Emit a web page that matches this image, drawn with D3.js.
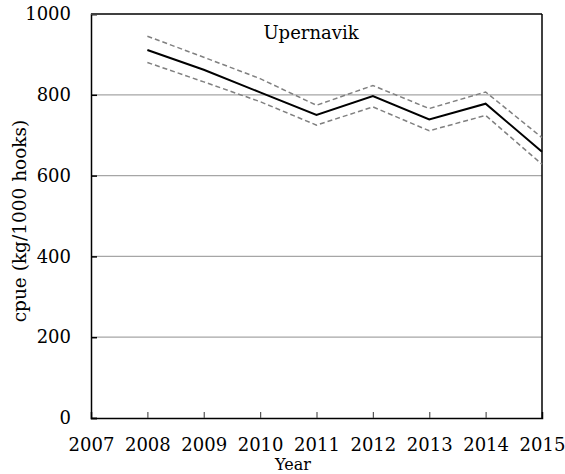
<!DOCTYPE html>
<html><head><meta charset="utf-8">
<script src="https://cdn.jsdelivr.net/npm/d3@7"></script>
<style>body{margin:0;background:#fff}svg{display:block}text{font-family:"DejaVu Serif",serif;fill:#000}</style>
</head><body><svg id="c" width="565" height="474"></svg>
<script>
const years = [2008, 2009, 2010, 2011, 2012, 2013, 2014, 2015];
const cpue = [911, 862, 806, 750, 797, 739, 778, 659];
const upper = [945, 893, 840, 774, 823, 766, 807, 694];
const lower = [880, 832, 783, 725, 770, 711, 749, 628];
const xTicks = [2007, 2008, 2009, 2010, 2011, 2012, 2013, 2014, 2015];
const yTicks = [0, 200, 400, 600, 800, 1000];
const title = "Upernavik";

const svg = d3.select("#c");
const L = 91, R = 542, T = 14, B = 418;
const x = d3.scaleLinear().domain([2007, 2015]).range([L, R]);
const y = d3.scaleLinear().domain([0, 1000]).range([B, T]);

// gridlines
svg.append("g").selectAll("line").data(yTicks.filter(v => v > 0 && v < 1000)).join("line")
  .attr("x1", L).attr("x2", R).attr("y1", d => y(d)).attr("y2", d => y(d))
  .attr("stroke", "#a6a6a6").attr("stroke-width", 1.2);

// y axis
const ya = svg.append("g").attr("transform", `translate(${L},0)`)
  .call(d3.axisLeft(y).tickValues(yTicks).tickSize(-6).tickPadding(20).tickFormat(d3.format("d")));
ya.select(".domain").attr("stroke", "#000").attr("stroke-width", 1.5);
ya.selectAll(".tick line").attr("stroke", "#000").attr("stroke-width", 1.5);
ya.selectAll("text").style("font-size", "18px").style("font-family", "DejaVu Serif").attr("fill", "#000");

// x axis
const xa = svg.append("g").attr("transform", `translate(0,${B})`)
  .call(d3.axisBottom(x).tickValues(xTicks).tickSize(-6).tickPadding(20).tickFormat(d3.format("d")));
xa.select(".domain").attr("stroke", "#000").attr("stroke-width", 1.5);
xa.selectAll(".tick line").attr("stroke", "#555").attr("stroke-width", 1.2)
  .attr("display", d => (d === 2007 || d === 2015) ? "none" : null);
xa.selectAll("text").style("font-size", "18px").style("font-family", "DejaVu Serif").attr("fill", "#000");

// top and right border
svg.append("line").attr("x1", L).attr("x2", R).attr("y1", T).attr("y2", T)
  .attr("stroke", "#404040").attr("stroke-width", 2);
svg.append("line").attr("x1", R).attr("x2", R).attr("y1", T).attr("y2", B)
  .attr("stroke", "#000").attr("stroke-width", 1.5);

const line = d3.line().x((d, i) => x(years[i])).y(d => y(d));
[upper, lower].forEach(s => {
  svg.append("path").attr("d", line(s)).attr("fill", "none")
    .attr("stroke", "#808080").attr("stroke-width", 1.5).attr("stroke-dasharray", "5,3");
});
svg.append("path").attr("d", line(cpue)).attr("fill", "none")
  .attr("stroke", "#000").attr("stroke-width", 2);

svg.append("text").attr("x", 311).attr("y", 39).attr("text-anchor", "middle")
  .style("font-size", "18px").text(title);
svg.append("text").attr("x", 293).attr("y", 470).attr("text-anchor", "middle")
  .style("font-size", "16px").text("Year");
svg.append("text").attr("transform", "translate(26,221) rotate(-90)").attr("text-anchor", "middle")
  .style("font-size", "18.5px").text("cpue (kg/1000 hooks)");
</script></body></html>
